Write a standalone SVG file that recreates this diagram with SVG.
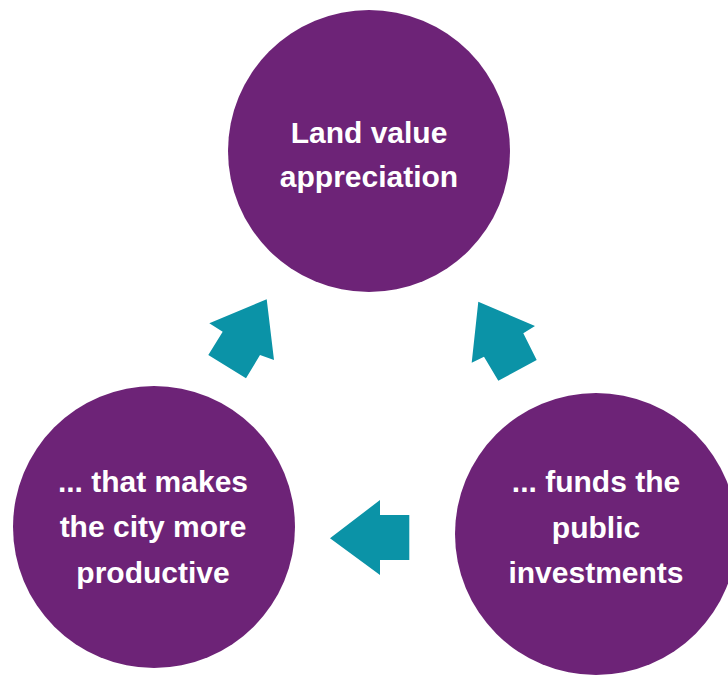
<svg xmlns="http://www.w3.org/2000/svg" width="728" height="675" viewBox="0 0 728 675">
<style>
.node{fill:#6d2377}
.lbl{fill:#ffffff;font-family:"Liberation Sans",Arial,sans-serif;font-weight:bold;font-size:30px;text-anchor:middle}
.arr{fill:#0b93a7}
</style>
<rect width="728" height="675" fill="#ffffff"/>
<g id="connectors">
<polygon class="arr" points="266.7,299.3 209.3,323.3 222.7,331.7 208.3,355 246,378.3 260,355 274,360"/>
<polygon class="arr" points="478.3,301.7 535,326 523.3,333.3 536.7,360 498.3,380.7 484,356.7 471.7,362.7"/>
<polygon class="arr" points="330,538.3 380,500 380,515 409.3,515 409.3,560 380,560 380,575"/>
</g>
<g id="node-land-value">
<circle class="node" cx="369" cy="151" r="141"/>
<text class="lbl" x="369" y="143">Land value</text>
<text class="lbl" x="369" y="187">appreciation</text>
</g>
<g id="node-productive">
<circle class="node" cx="154" cy="527" r="141"/>
<text class="lbl" x="153" y="492">... that makes</text>
<text class="lbl" x="153" y="537">the city more</text>
<text class="lbl" x="153" y="583">productive</text>
</g>
<g id="node-funds">
<circle class="node" cx="596" cy="534" r="141"/>
<text class="lbl" x="596" y="492">... funds the</text>
<text class="lbl" x="596" y="538">public</text>
<text class="lbl" x="596" y="583">investments</text>
</g>
</svg>
